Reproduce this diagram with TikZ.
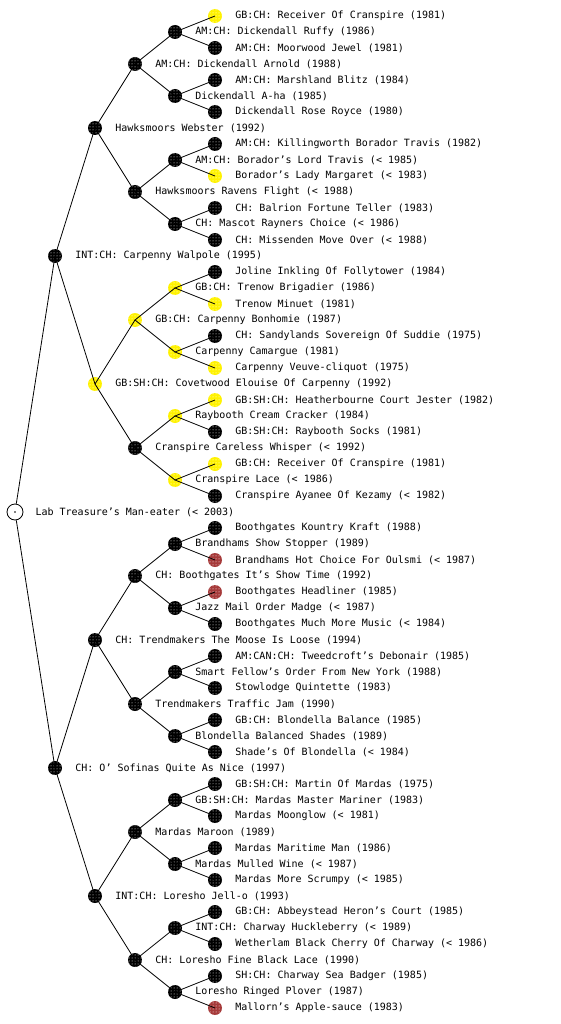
\documentclass[tikz,border=0pt]{standalone}
\usepackage{fontspec}
\usepackage{xcolor}
\usepackage{tikz}
\usetikzlibrary{patterns}
\newfontfamily\pedfont{DejaVu Sans Mono}
\definecolor{dogred}{RGB}{166,58,58}

\begin{document}
\begin{tikzpicture}[x=1pt,y=-1pt,
    dog/.style={circle,minimum size=14pt,inner sep=0pt,
      postaction={pattern=dots,pattern color=white}},
    blk/.style={dog,fill=black},
    ylw/.style={dog,fill=yellow},
    rdd/.style={dog,fill=dogred},
    top/.style={circle,draw,fill=white,minimum size=16pt,inner sep=0pt,
      line width=0.8pt},
    nm/.style={font=\pedfont\fontsize{10}{12}\selectfont,inner sep=0pt,xshift=13pt}]
    \useasboundingbox (0,0) rectangle (560,1024);

    % the dog itself
    \node[top,label={[nm,xshift=-1pt]right:{Lab Treasure’s Man-eater (< 2003)}}] (R) at (15,512) {};
    \fill (R) circle (0.9pt);

    % parents
    \node[blk,label={[nm]right:{INT:CH: Carpenny Walpole (1995)}}] (Rs) at (55,256) {};
    \node[blk,label={[nm]right:{CH: O’ Sofinas Quite As Nice (1997)}}] (Rd) at (55,768) {};

    % grandparents
    \node[blk,label={[nm]right:{Hawksmoors Webster (1992)}}] (Rss) at (95,128) {};
    \node[ylw,label={[nm]right:{GB:SH:CH: Covetwood Elouise Of Carpenny (1992)}}] (Rsd) at (95,384) {};
    \node[blk,label={[nm]right:{CH: Trendmakers The Moose Is Loose (1994)}}] (Rds) at (95,640) {};
    \node[blk,label={[nm]right:{INT:CH: Loresho Jell-o (1993)}}] (Rdd) at (95,896) {};

    % great-grandparents
    \node[blk,label={[nm]right:{AM:CH: Dickendall Arnold (1988)}}] (Rsss) at (135,64) {};
    \node[blk,label={[nm]right:{Hawksmoors Ravens Flight (< 1988)}}] (Rssd) at (135,192) {};
    \node[ylw,label={[nm]right:{GB:CH: Carpenny Bonhomie (1987)}}] (Rsds) at (135,320) {};
    \node[blk,label={[nm]right:{Cranspire Careless Whisper (< 1992)}}] (Rsdd) at (135,448) {};
    \node[blk,label={[nm]right:{CH: Boothgates It’s Show Time (1992)}}] (Rdss) at (135,576) {};
    \node[blk,label={[nm]right:{Trendmakers Traffic Jam (1990)}}] (Rdsd) at (135,704) {};
    \node[blk,label={[nm]right:{Mardas Maroon (1989)}}] (Rdds) at (135,832) {};
    \node[blk,label={[nm]right:{CH: Loresho Fine Black Lace (1990)}}] (Rddd) at (135,960) {};

    % 4th generation
    \node[blk,label={[nm]right:{AM:CH: Dickendall Ruffy (1986)}}] (Rssss) at (175,32) {};
    \node[blk,label={[nm]right:{Dickendall A-ha (1985)}}] (Rsssd) at (175,96) {};
    \node[blk,label={[nm]right:{AM:CH: Borador’s Lord Travis (< 1985)}}] (Rssds) at (175,160) {};
    \node[blk,label={[nm]right:{CH: Mascot Rayners Choice (< 1986)}}] (Rssdd) at (175,224) {};
    \node[ylw,label={[nm]right:{GB:CH: Trenow Brigadier (1986)}}] (Rsdss) at (175,288) {};
    \node[ylw,label={[nm]right:{Carpenny Camargue (1981)}}] (Rsdsd) at (175,352) {};
    \node[ylw,label={[nm]right:{Raybooth Cream Cracker (1984)}}] (Rsdds) at (175,416) {};
    \node[ylw,label={[nm]right:{Cranspire Lace (< 1986)}}] (Rsddd) at (175,480) {};
    \node[blk,label={[nm]right:{Brandhams Show Stopper (1989)}}] (Rdsss) at (175,544) {};
    \node[blk,label={[nm]right:{Jazz Mail Order Madge (< 1987)}}] (Rdssd) at (175,608) {};
    \node[blk,label={[nm]right:{Smart Fellow’s Order From New York (1988)}}] (Rdsds) at (175,672) {};
    \node[blk,label={[nm]right:{Blondella Balanced Shades (1989)}}] (Rdsdd) at (175,736) {};
    \node[blk,label={[nm]right:{GB:SH:CH: Mardas Master Mariner (1983)}}] (Rddss) at (175,800) {};
    \node[blk,label={[nm]right:{Mardas Mulled Wine (< 1987)}}] (Rddsd) at (175,864) {};
    \node[blk,label={[nm]right:{INT:CH: Charway Huckleberry (< 1989)}}] (Rddds) at (175,928) {};
    \node[blk,label={[nm]right:{Loresho Ringed Plover (1987)}}] (Rdddd) at (175,992) {};

    % 5th generation
    \node[ylw,label={[nm]right:{GB:CH: Receiver Of Cranspire (1981)}}] (Rsssss) at (215,16) {};
    \node[blk,label={[nm]right:{AM:CH: Moorwood Jewel (1981)}}] (Rssssd) at (215,48) {};
    \node[blk,label={[nm]right:{AM:CH: Marshland Blitz (1984)}}] (Rsssds) at (215,80) {};
    \node[blk,label={[nm]right:{Dickendall Rose Royce (1980)}}] (Rsssdd) at (215,112) {};
    \node[blk,label={[nm]right:{AM:CH: Killingworth Borador Travis (1982)}}] (Rssdss) at (215,144) {};
    \node[ylw,label={[nm]right:{Borador’s Lady Margaret (< 1983)}}] (Rssdsd) at (215,176) {};
    \node[blk,label={[nm]right:{CH: Balrion Fortune Teller (1983)}}] (Rssdds) at (215,208) {};
    \node[blk,label={[nm]right:{CH: Missenden Move Over (< 1988)}}] (Rssddd) at (215,240) {};
    \node[blk,label={[nm]right:{Joline Inkling Of Follytower (1984)}}] (Rsdsss) at (215,272) {};
    \node[ylw,label={[nm]right:{Trenow Minuet (1981)}}] (Rsdssd) at (215,304) {};
    \node[blk,label={[nm]right:{CH: Sandylands Sovereign Of Suddie (1975)}}] (Rsdsds) at (215,336) {};
    \node[ylw,label={[nm]right:{Carpenny Veuve-cliquot (1975)}}] (Rsdsdd) at (215,368) {};
    \node[ylw,label={[nm]right:{GB:SH:CH: Heatherbourne Court Jester (1982)}}] (Rsddss) at (215,400) {};
    \node[blk,label={[nm]right:{GB:SH:CH: Raybooth Socks (1981)}}] (Rsddsd) at (215,432) {};
    \node[ylw,label={[nm]right:{GB:CH: Receiver Of Cranspire (1981)}}] (Rsddds) at (215,464) {};
    \node[blk,label={[nm]right:{Cranspire Ayanee Of Kezamy (< 1982)}}] (Rsdddd) at (215,496) {};
    \node[blk,label={[nm]right:{Boothgates Kountry Kraft (1988)}}] (Rdssss) at (215,528) {};
    \node[rdd,label={[nm]right:{Brandhams Hot Choice For Oulsmi (< 1987)}}] (Rdsssd) at (215,560) {};
    \node[rdd,label={[nm]right:{Boothgates Headliner (1985)}}] (Rdssds) at (215,592) {};
    \node[blk,label={[nm]right:{Boothgates Much More Music (< 1984)}}] (Rdssdd) at (215,624) {};
    \node[blk,label={[nm]right:{AM:CAN:CH: Tweedcroft’s Debonair (1985)}}] (Rdsdss) at (215,656) {};
    \node[blk,label={[nm]right:{Stowlodge Quintette (1983)}}] (Rdsdsd) at (215,688) {};
    \node[blk,label={[nm]right:{GB:CH: Blondella Balance (1985)}}] (Rdsdds) at (215,720) {};
    \node[blk,label={[nm]right:{Shade’s Of Blondella (< 1984)}}] (Rdsddd) at (215,752) {};
    \node[blk,label={[nm]right:{GB:SH:CH: Martin Of Mardas (1975)}}] (Rddsss) at (215,784) {};
    \node[blk,label={[nm]right:{Mardas Moonglow (< 1981)}}] (Rddssd) at (215,816) {};
    \node[blk,label={[nm]right:{Mardas Maritime Man (1986)}}] (Rddsds) at (215,848) {};
    \node[blk,label={[nm]right:{Mardas More Scrumpy (< 1985)}}] (Rddsdd) at (215,880) {};
    \node[blk,label={[nm]right:{GB:CH: Abbeystead Heron’s Court (1985)}}] (Rdddss) at (215,912) {};
    \node[blk,label={[nm]right:{Wetherlam Black Cherry Of Charway (< 1986)}}] (Rdddsd) at (215,944) {};
    \node[blk,label={[nm]right:{SH:CH: Charway Sea Badger (1985)}}] (Rdddds) at (215,976) {};
    \node[rdd,label={[nm]right:{Mallorn’s Apple-sauce (1983)}}] (Rddddd) at (215,1008) {};

    % lines, sire above and dam below
    \draw[line width=0.8pt] (R) -- (Rs.center) (R) -- (Rd.center);
    \draw[line width=0.8pt] (Rss.center) -- (Rs.center) -- (Rsd.center);
    \draw[line width=0.8pt] (Rds.center) -- (Rd.center) -- (Rdd.center);
    \draw[line width=0.8pt] (Rsss.center) -- (Rss.center) -- (Rssd.center);
    \draw[line width=0.8pt] (Rsds.center) -- (Rsd.center) -- (Rsdd.center);
    \draw[line width=0.8pt] (Rdss.center) -- (Rds.center) -- (Rdsd.center);
    \draw[line width=0.8pt] (Rdds.center) -- (Rdd.center) -- (Rddd.center);
    \draw[line width=0.8pt] (Rssss.center) -- (Rsss.center) -- (Rsssd.center);
    \draw[line width=0.8pt] (Rssds.center) -- (Rssd.center) -- (Rssdd.center);
    \draw[line width=0.8pt] (Rsdss.center) -- (Rsds.center) -- (Rsdsd.center);
    \draw[line width=0.8pt] (Rsdds.center) -- (Rsdd.center) -- (Rsddd.center);
    \draw[line width=0.8pt] (Rdsss.center) -- (Rdss.center) -- (Rdssd.center);
    \draw[line width=0.8pt] (Rdsds.center) -- (Rdsd.center) -- (Rdsdd.center);
    \draw[line width=0.8pt] (Rddss.center) -- (Rdds.center) -- (Rddsd.center);
    \draw[line width=0.8pt] (Rddds.center) -- (Rddd.center) -- (Rdddd.center);
    \draw[line width=0.8pt] (Rsssss.center) -- (Rssss.center) -- (Rssssd.center);
    \draw[line width=0.8pt] (Rsssds.center) -- (Rsssd.center) -- (Rsssdd.center);
    \draw[line width=0.8pt] (Rssdss.center) -- (Rssds.center) -- (Rssdsd.center);
    \draw[line width=0.8pt] (Rssdds.center) -- (Rssdd.center) -- (Rssddd.center);
    \draw[line width=0.8pt] (Rsdsss.center) -- (Rsdss.center) -- (Rsdssd.center);
    \draw[line width=0.8pt] (Rsdsds.center) -- (Rsdsd.center) -- (Rsdsdd.center);
    \draw[line width=0.8pt] (Rsddss.center) -- (Rsdds.center) -- (Rsddsd.center);
    \draw[line width=0.8pt] (Rsddds.center) -- (Rsddd.center) -- (Rsdddd.center);
    \draw[line width=0.8pt] (Rdssss.center) -- (Rdsss.center) -- (Rdsssd.center);
    \draw[line width=0.8pt] (Rdssds.center) -- (Rdssd.center) -- (Rdssdd.center);
    \draw[line width=0.8pt] (Rdsdss.center) -- (Rdsds.center) -- (Rdsdsd.center);
    \draw[line width=0.8pt] (Rdsdds.center) -- (Rdsdd.center) -- (Rdsddd.center);
    \draw[line width=0.8pt] (Rddsss.center) -- (Rddss.center) -- (Rddssd.center);
    \draw[line width=0.8pt] (Rddsds.center) -- (Rddsd.center) -- (Rddsdd.center);
    \draw[line width=0.8pt] (Rdddss.center) -- (Rddds.center) -- (Rdddsd.center);
    \draw[line width=0.8pt] (Rdddds.center) -- (Rdddd.center) -- (Rddddd.center);
\end{tikzpicture}
\end{document}
